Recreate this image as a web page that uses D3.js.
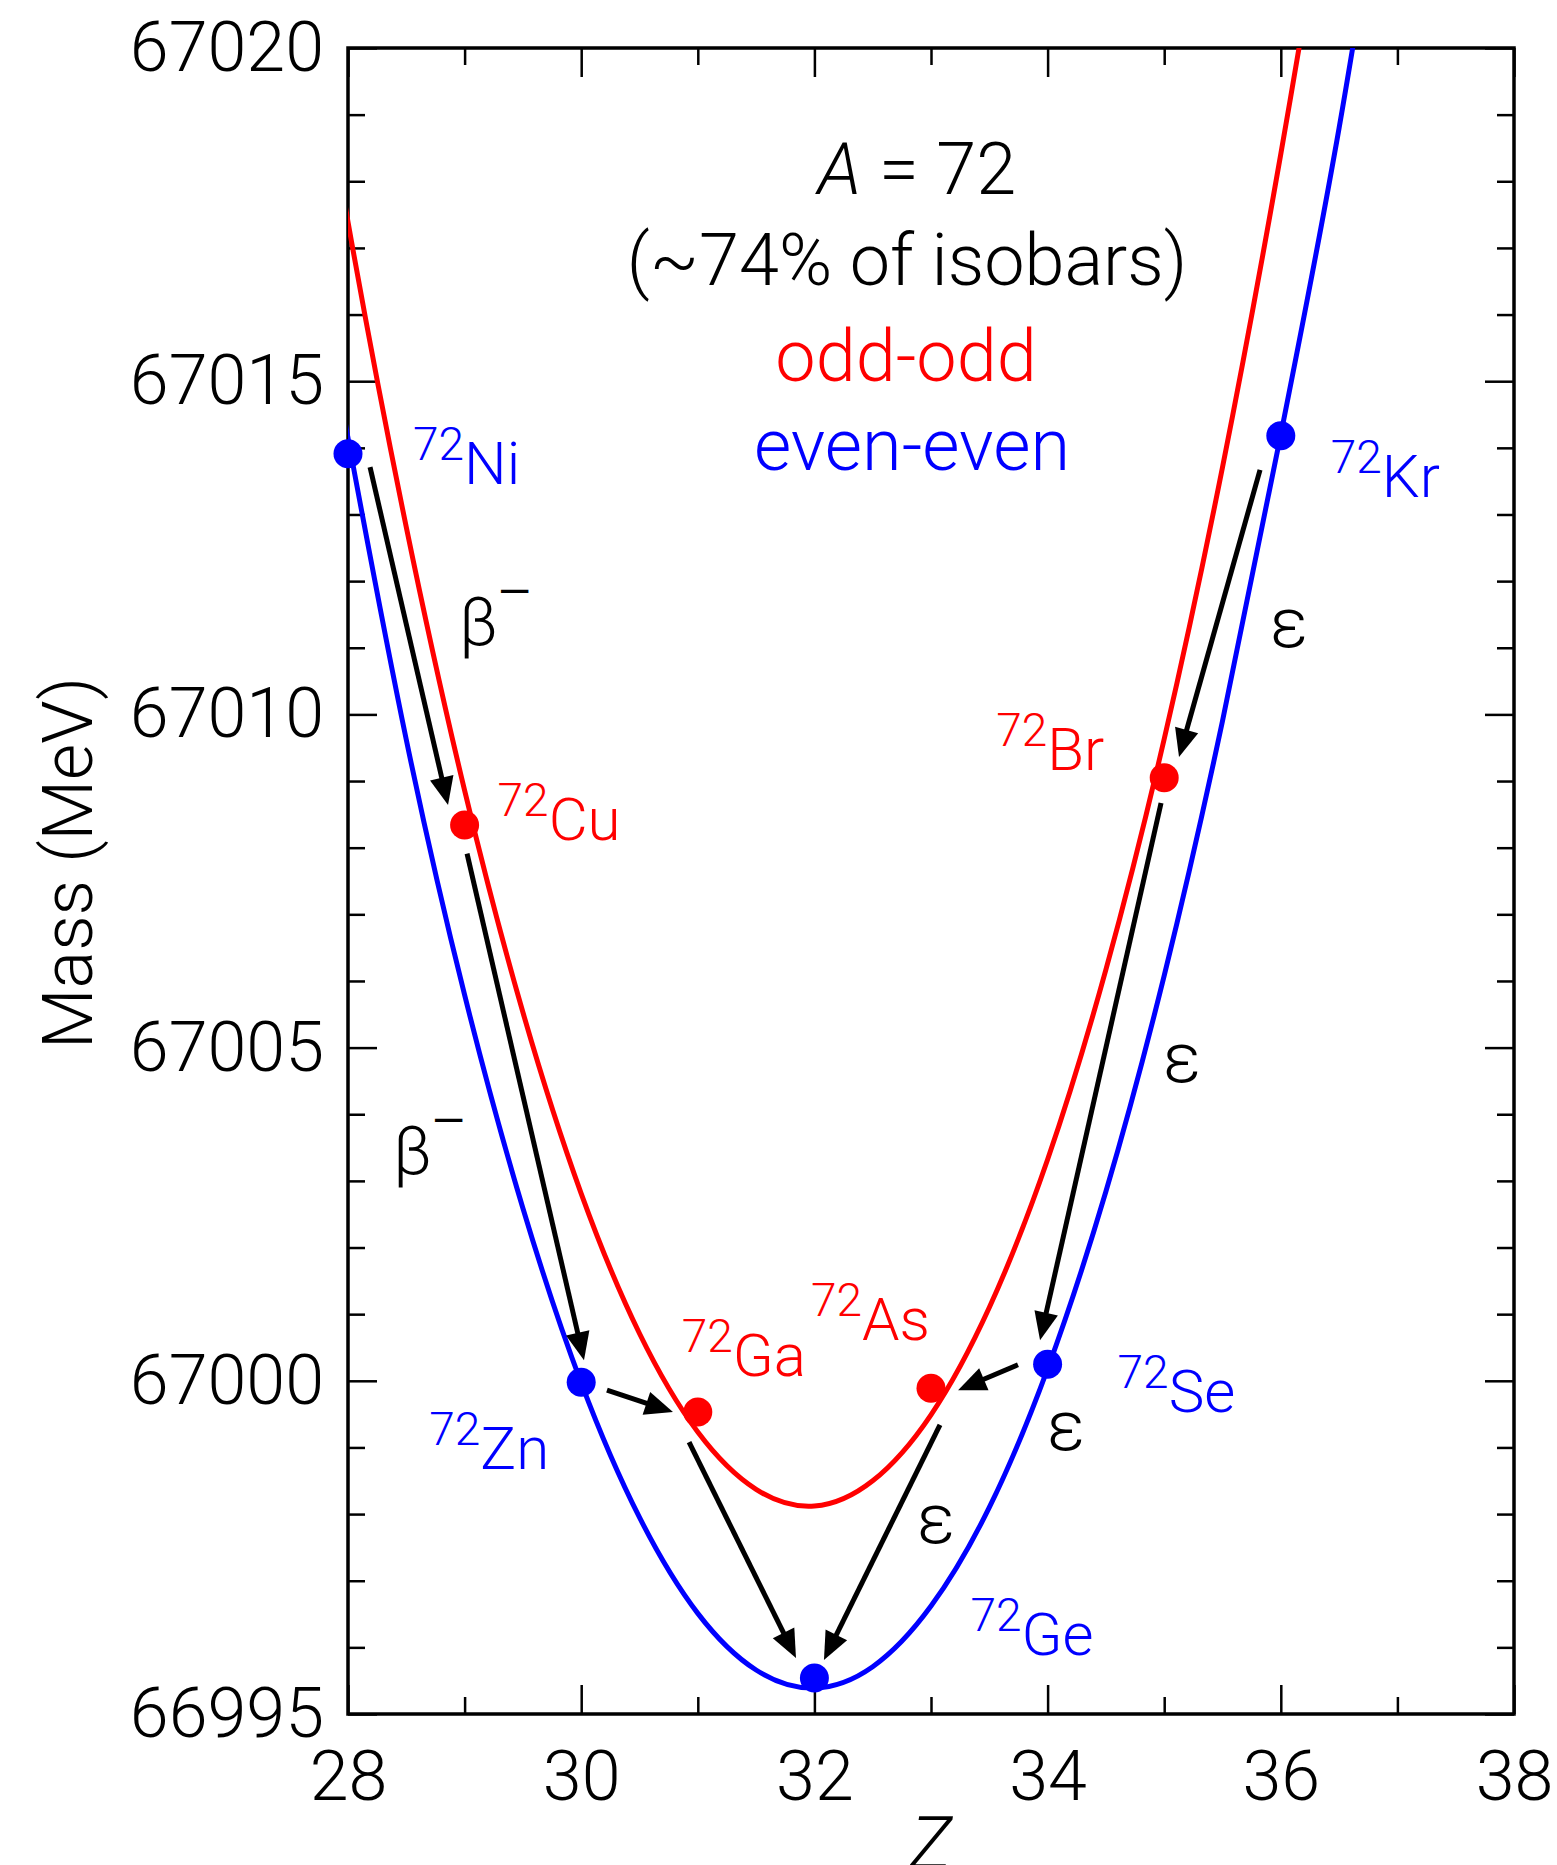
<!DOCTYPE html>
<html>
<head>
<meta charset="utf-8">
<script src="https://cdn.jsdelivr.net/npm/d3@7"></script>
<style>
  body { margin: 0; background: #fff; }
  svg text { font-family: Roboto, "Liberation Sans", sans-serif; font-weight: 300; }
</style>
</head>
<body>
<div id="chart"></div>
<script>
var svgWidth = 1557;
var svgHeight = 1865;

var margin = {top: 48, right: 43, bottom: 151, left: 348};
var width = svgWidth - margin.left - margin.right;
var height = svgHeight - margin.top - margin.bottom;

// even-even isobars: Z and mass (MeV)
var evenZ = [28, 30, 32, 34, 36];
var evenMass = [67013.91, 66999.98, 66995.54, 67000.25, 67014.18];
var evenNames = ["Ni", "Zn", "Ge", "Se", "Kr"];

// odd-odd isobars
var oddZ = [29, 31, 33, 35];
var oddMass = [67008.34, 66999.53, 66999.89, 67009.05];
var oddNames = ["Cu", "Ga", "As", "Br"];

// mass curves every half unit of Z
var curveZ = [27.5, 28, 28.5, 29, 29.5, 30, 30.5, 31, 31.5, 32, 32.5, 33, 33.5, 34, 34.5, 35, 35.5, 36, 36.5, 37];
var oddCurve = [67022.57, 67017.39, 67012.81, 67008.86, 67005.53, 67002.81, 67000.71, 66999.23, 66998.37, 66998.12,
  66998.50, 66999.49, 67001.10, 67003.32, 67006.17, 67009.63, 67013.71, 67018.41, 67023.73, 67029.67];
var evenCurve = [67018.92, 67014.15, 67009.62, 67005.79, 67002.59, 66999.97, 66997.95, 66996.51, 66995.66, 66995.39,
  66995.71, 66996.62, 66998.10, 67000.18, 67002.84, 67006.08, 67009.90, 67014.20, 67018.80, 67024.20];

// decay arrows: [Z, mass] at tail and at tip
var decayFrom = [[28.189, 67013.71], [29.021, 67007.91], [30.221, 66999.86], [30.925, 66999.08],
  [33.077, 66999.34], [33.746, 67000.24], [34.973, 67008.67], [35.822, 67013.67]];
var decayTo = [[28.858, 67008.64], [30.024, 67000.31], [30.787, 66999.53], [31.842, 66995.84],
  [32.082, 66995.81], [33.232, 66999.86], [33.935, 67000.61], [35.127, 67009.36]];

// decay mode labels and where they sit (Z, mass)
var modeText = ["β", "β", "ε", "ε", "ε", "ε"];
var modeAt = [[28.952, 67011.04], [28.386, 67003.10], [35.907, 67011.01], [34.990, 67004.48], [33.995, 66998.96], [32.880, 66997.57]];

// axis ticks
var xMajor = [28, 30, 32, 34, 36, 38];
var xMinor = [29, 31, 33, 35, 37];
var yMajor = [66995, 67000, 67005, 67010, 67015, 67020];
var yMinor = d3.range(66996, 67020).filter(d => d % 5 !== 0);

// label offsets from the dot, in px
var labelOffset = {
  Ni: [65, 30], Cu: [33, 15], Zn: [-152, 87], Ga: [-16, -36], As: [-120, -48],
  Se: [70, 48], Ge: [156, -23], Br: [-168, -8], Kr: [50, 61]
};

var svg = d3.select("#chart")
  .append("svg")
  .attr("width", svgWidth)
  .attr("height", svgHeight);

var chartGroup = svg.append("g")
  .attr("transform", `translate(${margin.left}, ${margin.top})`);

var x = d3.scaleLinear().domain([28, 38]).range([0, width]);
var y = d3.scaleLinear().domain([66995, 67020]).range([height, 0]);

// ticks on all four sides, pointing inward
function drawAxis(axis, transform, labels) {
  var g = chartGroup.append("g").attr("transform", transform).call(axis);
  g.select(".domain").remove();
  g.selectAll("line").attr("stroke-width", 2.5);
  g.selectAll("text").attr("font-size", 70).attr("fill", "#000")
    .style("font-family", "Roboto, 'Liberation Sans', sans-serif");
  if (!labels) g.selectAll("text").remove();
  return g;
}

drawAxis(d3.axisBottom(x).tickValues(xMajor).tickSizeInner(-29).tickSizeOuter(0).tickPadding(36).tickFormat(d3.format("d")),
  `translate(0, ${height})`, true);
drawAxis(d3.axisBottom(x).tickValues(xMinor).tickSizeInner(-17).tickSizeOuter(0), `translate(0, ${height})`, false);
drawAxis(d3.axisTop(x).tickValues(xMajor).tickSizeInner(-29).tickSizeOuter(0), "translate(0, 0)", false);
drawAxis(d3.axisTop(x).tickValues(xMinor).tickSizeInner(-17).tickSizeOuter(0), "translate(0, 0)", false);

drawAxis(d3.axisLeft(y).tickValues(yMajor).tickSizeInner(-29).tickSizeOuter(0).tickPadding(24).tickFormat(d3.format("d")),
  "translate(0, 0)", true);
drawAxis(d3.axisLeft(y).tickValues(yMinor).tickSizeInner(-17).tickSizeOuter(0), "translate(0, 0)", false);
drawAxis(d3.axisRight(y).tickValues(yMajor).tickSizeInner(-29).tickSizeOuter(0), `translate(${width}, 0)`, false);
drawAxis(d3.axisRight(y).tickValues(yMinor).tickSizeInner(-17).tickSizeOuter(0), `translate(${width}, 0)`, false);

chartGroup.append("rect")
  .attr("width", width)
  .attr("height", height)
  .attr("fill", "none")
  .attr("stroke", "#000")
  .attr("stroke-width", 3.5);

// axis titles
svg.append("text")
  .attr("transform", `translate(92, 863) rotate(-90)`)
  .attr("text-anchor", "middle")
  .attr("font-size", 70)
  .text("Mass (MeV)");

svg.append("text")
  .attr("x", margin.left + width / 2)
  .attr("y", 1868)
  .attr("text-anchor", "middle")
  .attr("font-size", 72)
  .attr("font-style", "italic")
  .text("Z");

// curves, clipped to the frame
svg.append("defs").append("clipPath").attr("id", "plotClip")
  .append("rect").attr("width", width).attr("height", height);

var line = d3.line()
  .x((d, i) => x(curveZ[i]))
  .y(d => y(d))
  .curve(d3.curveNatural);

var curves = chartGroup.append("g").attr("clip-path", "url(#plotClip)");
curves.append("path").datum(oddCurve)
  .attr("d", line).attr("fill", "none").attr("stroke", "#ff0000").attr("stroke-width", 5);
curves.append("path").datum(evenCurve)
  .attr("d", line).attr("fill", "none").attr("stroke", "#0000ff").attr("stroke-width", 5);

// decay arrows
var arrows = chartGroup.append("g");
decayFrom.forEach(function(p, i) {
  var x0 = x(p[0]), y0 = y(p[1]);
  var x1 = x(decayTo[i][0]), y1 = y(decayTo[i][1]);
  var len = Math.hypot(x1 - x0, y1 - y0);
  var ux = (x1 - x0) / len, uy = (y1 - y0) / len;
  var headLen = 28, headHalf = 12;
  var bx = x1 - ux * headLen, by = y1 - uy * headLen;
  arrows.append("line")
    .attr("x1", x0).attr("y1", y0)
    .attr("x2", bx + ux * 2).attr("y2", by + uy * 2)
    .attr("stroke", "#000").attr("stroke-width", 5);
  arrows.append("path")
    .attr("d", `M${x1},${y1}L${bx - uy * headHalf},${by + ux * headHalf}L${bx + uy * headHalf},${by - ux * headHalf}Z`)
    .attr("fill", "#000");
});

// decay mode labels
modeText.forEach(function(t, i) {
  var lbl = chartGroup.append("text")
    .attr("x", x(modeAt[i][0]))
    .attr("y", y(modeAt[i][1]))
    .attr("font-size", t === "β" ? 66 : 70)
    .attr("fill", "#000")
    .text(t);
  if (t === "β") {
    lbl.append("tspan")
      .attr("font-size", 42)
      .style("font-weight", 400)
      .attr("dx", 0)
      .attr("dy", -38)
      .text("—");
  }
});

// isotope points and labels
function drawIsotopes(zs, masses, names, color) {
  chartGroup.selectAll(null)
    .data(zs)
    .enter()
    .append("circle")
    .attr("cx", d => x(d))
    .attr("cy", (d, i) => y(masses[i]))
    .attr("r", 14.5)
    .attr("fill", color);

  names.forEach(function(name, i) {
    var off = labelOffset[name];
    var t = chartGroup.append("text")
      .attr("x", x(zs[i]) + off[0])
      .attr("y", y(masses[i]) + off[1])
      .attr("fill", color);
    t.append("tspan").attr("font-size", 46).attr("dy", -24).text("72");
    t.append("tspan").attr("font-size", 60).attr("dy", 24).text(name);
  });
}

drawIsotopes(oddZ, oddMass, oddNames, "#ff0000");
drawIsotopes(evenZ, evenMass, evenNames, "#0000ff");

// legend text
var legend = svg.append("g").attr("text-anchor", "middle").attr("font-size", 72);
var a = legend.append("text").attr("x", 917).attr("y", 194);
a.append("tspan").attr("font-style", "italic").text("A");
a.append("tspan").text(" = 72");
legend.append("text").attr("x", 907).attr("y", 285).text("(~74% of isobars)");
legend.append("text").attr("x", 906).attr("y", 381).attr("fill", "#ff0000").text("odd-odd");
legend.append("text").attr("x", 912).attr("y", 470).attr("fill", "#0000ff").text("even-even");
</script>
</body>
</html>
